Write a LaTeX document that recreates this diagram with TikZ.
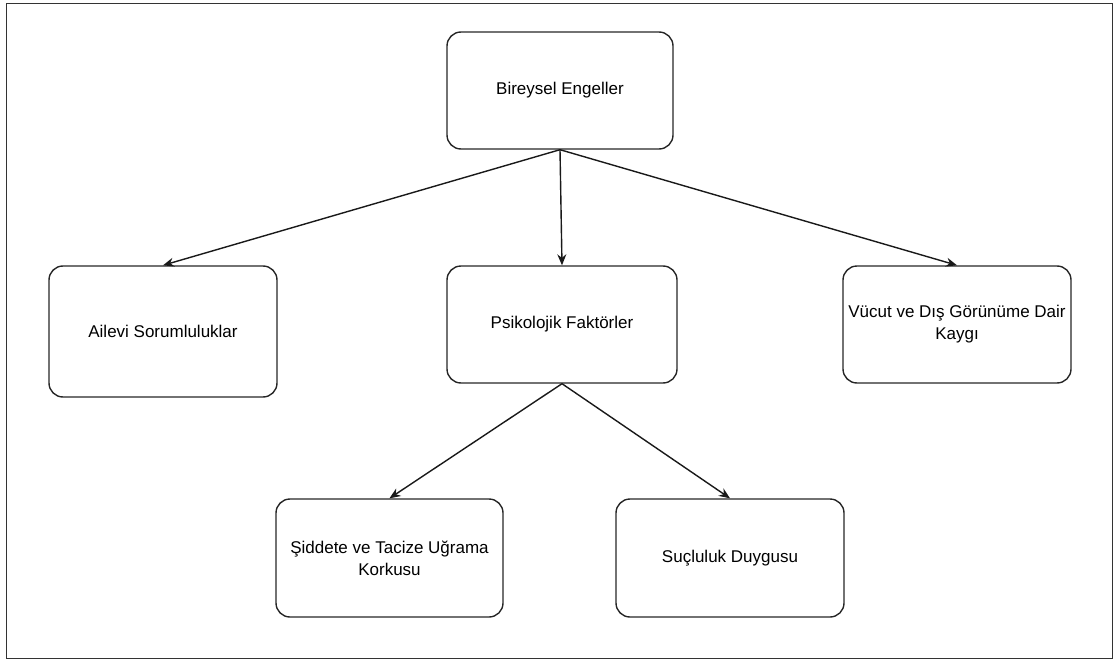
\documentclass[tikz,border=0pt]{standalone}
\usepackage{fontspec}
\setmainfont{Liberation Sans}
\usetikzlibrary{arrows.meta}
\begin{document}
\begin{tikzpicture}[x=1pt,y=-1pt,
  box/.style={draw=black!85, line width=1.4pt, rounded corners=14pt, minimum width=#1, inner sep=0pt, align=center, font=\fontsize{17}{22}\selectfont},
  conn/.style={line width=1.4pt, draw=black!90, -{Stealth[length=11pt,width=9pt]}}]
\useasboundingbox (0,0) rectangle (1117,661);
\draw[line width=1.6pt, draw=black!80] (6.5,3.5) rectangle (1112.5,658.5);
\node[box=226pt, minimum height=117pt] (be) at (560,90.5) {Bireysel Engeller};
\node[box=228pt, minimum height=131pt] (as) at (163,331.5) {Ailevi Sorumluluklar};
\node[box=230pt, minimum height=117pt] (pf) at (562,324.5) {Psikolojik Faktörler};
\node[box=228pt, minimum height=117pt] (vd) at (957,324.5) {Vücut ve Dış Görünüme Dair\\Kaygı};
\node[box=227pt, minimum height=118pt] (st) at (389.5,558) {Şiddete ve Tacize Uğrama\\Korkusu};
\node[box=228pt, minimum height=118pt] (sd) at (730,558) {Suçluluk Duygusu};
\draw[conn] (be.south) -- (as.north);
\draw[conn] (be.south) -- (pf.north);
\draw[conn] (be.south) -- (vd.north);
\draw[conn] (pf.south) -- (st.north);
\draw[conn] (pf.south) -- (sd.north);
\end{tikzpicture}
\end{document}
